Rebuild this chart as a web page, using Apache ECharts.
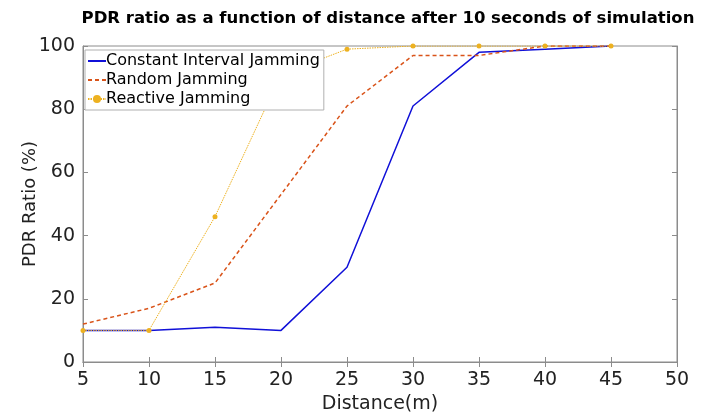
<!DOCTYPE html>
<html>
<head>
<meta charset="utf-8">
<script src="https://cdn.jsdelivr.net/npm/echarts@6/dist/echarts.min.js"></script>
<style>
  html, body { margin: 0; padding: 0; background: #fff; }
  #container { width: 701px; height: 414px; }
</style>
</head>
<body>
<div id="container"></div>
<script>
// distances (m)
const distance = [5, 10, 15, 20, 25, 30, 35, 40, 45];
// PDR ratio (%)
const constantJam = [10, 10, 11, 10, 30, 81, 98, 99, 100];
const randomJam = [12, 17, 25, 53, 81, 97, 97, 100, 100];
const reactiveJam = [10, 10, 46, 91, 99, 100, 100, 100, 100];

const pairs = (ys) => distance.map((x, i) => [x, ys[i]]);

const font = 'DejaVu Sans';
const axisGrey = '#8c8c8c';

let myChart = echarts.init(document.getElementById('container'));
myChart.setOption({
  animation: false,
  title: {
    text: 'PDR ratio as a function of distance after 10 seconds of simulation',
    left: 383,
    textAlign: 'center',
    top: 5,
    textStyle: { fontFamily: font, fontSize: 16.5, fontWeight: 'bold', color: '#000' }
  },
  legend: {
    orient: 'vertical',
    left: 85,
    top: 50,
    padding: [3, 4, 3, 2],
    itemGap: 3,
    itemWidth: 18,
    itemHeight: 10,
    backgroundColor: '#fff',
    borderColor: '#b0b0b0',
    borderWidth: 1,
    textStyle: { fontFamily: font, fontSize: 16, color: '#000', padding: [0, 0, 0, -5] },
    data: [
      { name: 'Constant Interval Jamming', itemStyle: { opacity: 0 } },
      { name: 'Random Jamming', itemStyle: { opacity: 0 } },
      { name: 'Reactive Jamming' }
    ]
  },
  grid: {
    left: 83, right: 24, top: 46, bottom: 52,
    outerBoundsMode: 'none',
    show: true, borderColor: axisGrey, borderWidth: 1
  },
  xAxis: [{
    type: 'value', min: 5, max: 50, interval: 5,
    name: 'Distance(m)', nameLocation: 'middle', nameGap: 33,
    nameMoveOverlap: false,
    nameTextStyle: { fontFamily: font, fontSize: 19, color: '#222' },
    axisLine: { lineStyle: { color: axisGrey } },
    axisTick: { inside: true, length: 5, lineStyle: { color: axisGrey } },
    axisLabel: { fontFamily: font, fontSize: 19, color: '#222', margin: 9 },
    splitLine: { show: false }
  }, {
    type: 'value', position: 'top', min: 5, max: 50, interval: 5,
    axisLine: { show: true, lineStyle: { color: axisGrey } },
    axisTick: { inside: true, length: 5, lineStyle: { color: axisGrey } },
    axisLabel: { show: false },
    splitLine: { show: false }
  }],
  yAxis: [{
    type: 'value', min: 0, max: 100, interval: 20,
    name: 'PDR Ratio (%)', nameLocation: 'middle', nameGap: 44,
    nameMoveOverlap: false,
    nameTextStyle: { fontFamily: font, fontSize: 18, color: '#222' },
    axisLine: { show: true, lineStyle: { color: axisGrey } },
    axisTick: { show: true, inside: true, length: 5, lineStyle: { color: axisGrey } },
    axisLabel: { fontFamily: font, fontSize: 19, color: '#222', margin: 8 },
    splitLine: { show: false }
  }, {
    type: 'value', position: 'right', min: 0, max: 100, interval: 20,
    axisLine: { show: true, lineStyle: { color: axisGrey } },
    axisTick: { show: true, inside: true, length: 5, lineStyle: { color: axisGrey } },
    axisLabel: { show: false },
    splitLine: { show: false }
  }],
  series: [
    {
      name: 'Constant Interval Jamming',
      type: 'line',
      data: pairs(constantJam),
      symbol: 'none',
      color: '#1010d8',
      lineStyle: { width: 1.5, color: '#1010d8' }
    },
    {
      name: 'Random Jamming',
      type: 'line',
      data: pairs(randomJam),
      symbol: 'none',
      color: '#D95319',
      lineStyle: { width: 1.5, type: [4, 3], color: '#D95319' }
    },
    {
      name: 'Reactive Jamming',
      type: 'line',
      data: pairs(reactiveJam),
      symbol: 'circle',
      symbolSize: 5,
      color: '#EDB120',
      itemStyle: { color: '#EDB120' },
      lineStyle: { width: 1, type: [1.5, 1], color: '#EDB120' }
    }
  ]
});
</script>
</body>
</html>
